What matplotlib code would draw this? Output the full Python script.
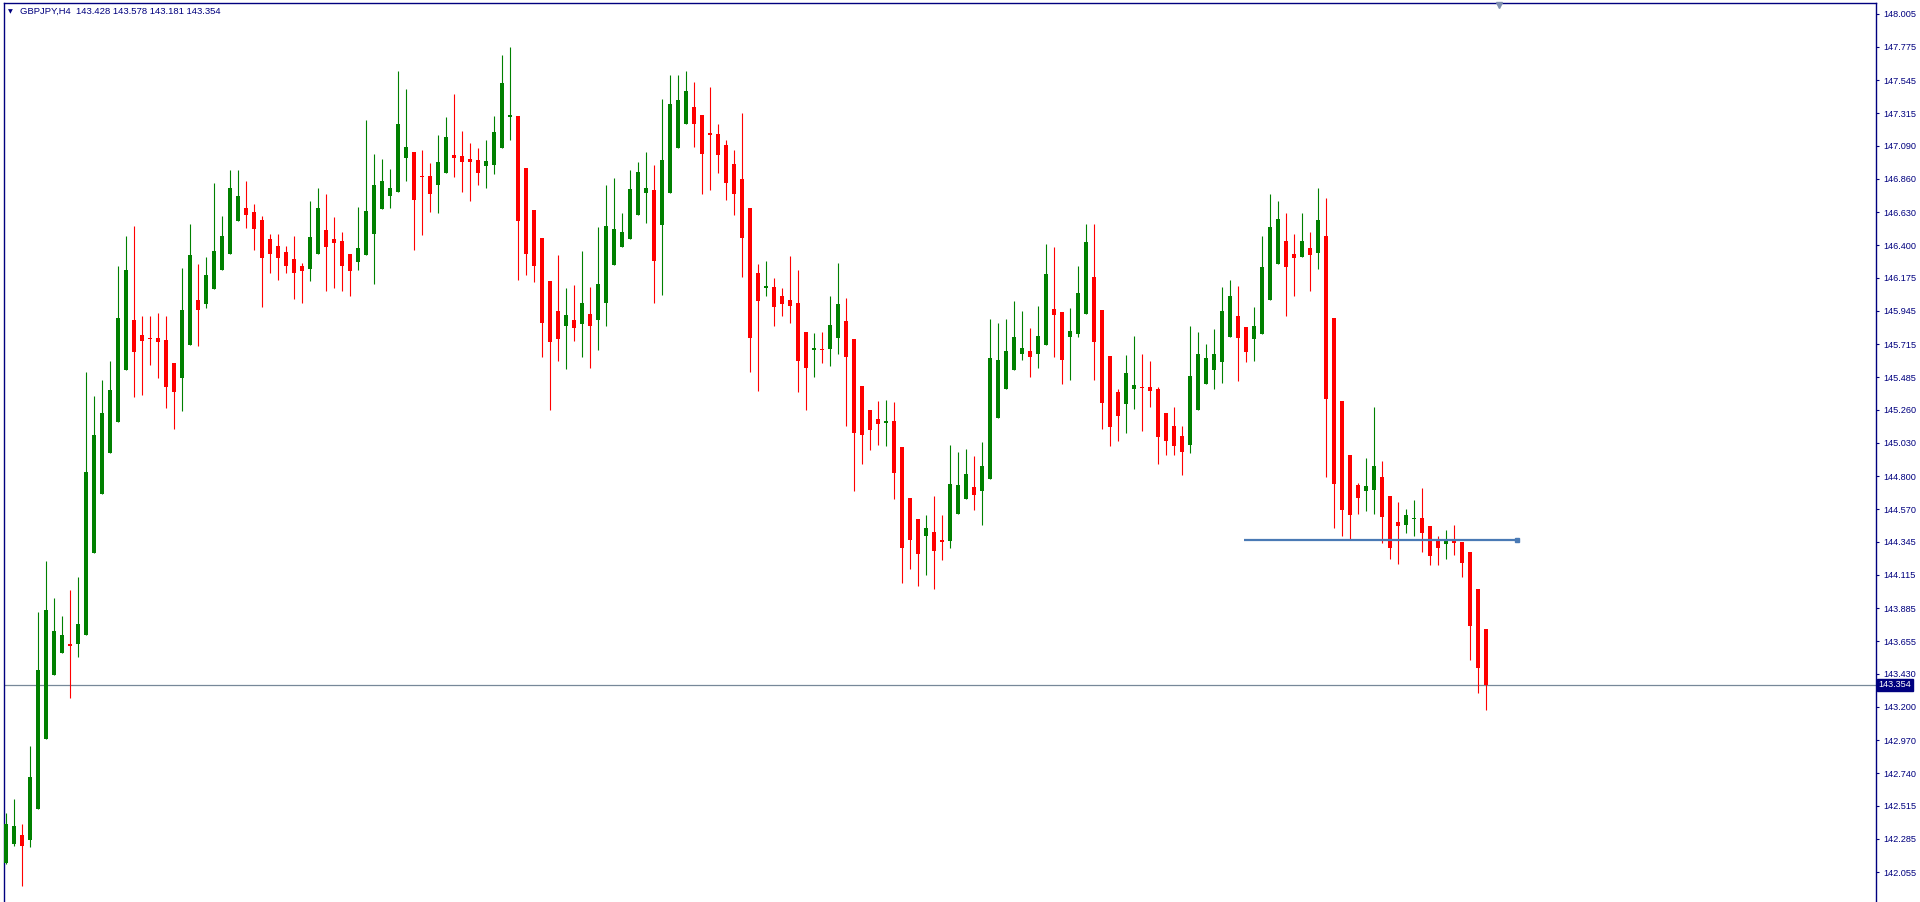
import matplotlib
matplotlib.use("Agg")
import matplotlib.pyplot as plt
import matplotlib.transforms as mtransforms
import numpy as np

# ---------------- data (GBPJPY, H4) ----------------
opens = [142.119, 142.247, 142.310, 142.275, 142.490, 142.976, 143.419, 143.571, 143.634, 143.634,
         143.702, 144.265, 144.675, 144.958, 145.174, 145.533, 145.884, 145.780, 145.760, 145.756,
         145.744, 145.585, 145.477, 145.712, 146.019, 145.991, 146.095, 146.227, 146.342, 146.566,
         146.657, 146.629, 146.578, 146.446, 146.394, 146.354, 146.306, 146.259, 146.235, 146.342,
         146.506, 146.446, 146.430, 146.338, 146.282, 146.330, 146.482, 146.649, 146.745, 146.773,
         147.008, 147.048, 146.881, 146.881, 146.817, 146.901, 147.028, 147.020, 147.000, 146.992,
         146.948, 146.960, 147.072, 147.287, 147.295, 146.936, 146.645, 146.450, 146.155, 145.943,
         145.844, 145.884, 145.852, 145.924, 145.880, 146.003, 146.267, 146.386, 146.442, 146.613,
         146.761, 146.785, 146.538, 146.761, 147.072, 147.240, 147.359, 147.303, 147.176, 147.172,
         147.096, 146.964, 146.861, 146.657, 146.207, 146.107, 146.111, 146.047, 146.019, 145.999,
         145.800, 145.672, 145.680, 145.680, 145.760, 145.876, 145.752, 145.425, 145.258, 145.194,
         145.170, 145.182, 145.002, 144.647, 144.504, 144.384, 144.412, 144.356, 144.348, 144.540,
         144.639, 144.723, 144.695, 144.779, 145.202, 145.401, 145.533, 145.644, 145.668, 145.644,
         145.708, 145.959, 145.939, 145.768, 145.788, 145.927, 146.179, 145.951, 145.632, 145.385,
         145.297, 145.401, 145.417, 145.417, 145.405, 145.238, 145.146, 145.078, 145.018, 145.258,
         145.441, 145.533, 145.589, 145.768, 145.912, 145.836, 145.748, 145.788, 146.019, 146.274,
         146.430, 146.338, 146.322, 146.382, 146.350, 146.466, 145.896, 145.321, 144.946, 144.739,
         144.695, 144.707, 144.795, 144.663, 144.484, 144.464, 144.500, 144.508, 144.456, 144.352,
         144.328, 144.348, 144.344, 144.273, 144.017, 143.742]

highs = [142.466, 142.562, 142.390, 142.929, 143.858, 144.213, 143.953, 143.830, 144.009, 144.101,
         145.521, 145.357, 145.465, 145.597, 146.259, 146.466, 146.534, 145.912, 145.912, 145.931,
         145.912, 145.585, 146.243, 146.550, 146.271, 146.318, 146.833, 146.605, 146.925, 146.921,
         146.845, 146.685, 146.605, 146.478, 146.478, 146.394, 146.466, 146.278, 146.709, 146.797,
         146.757, 146.598, 146.494, 146.338, 146.665, 147.268, 147.032, 147.000, 146.929, 147.610,
         147.483, 147.048, 147.060, 146.968, 147.164, 147.291, 147.451, 147.192, 147.108, 147.076,
         147.132, 147.295, 147.718, 147.774, 147.295, 146.936, 146.645, 146.450, 146.155, 146.334,
         146.103, 146.127, 146.362, 146.111, 146.526, 146.817, 146.869, 146.625, 146.921, 146.976,
         147.048, 146.956, 147.415, 147.583, 147.583, 147.610, 147.531, 147.303, 147.499, 147.240,
         147.132, 147.060, 147.319, 146.657, 146.274, 146.290, 146.175, 146.103, 146.326, 146.231,
         145.800, 145.792, 145.800, 146.047, 146.278, 146.035, 145.752, 145.425, 145.258, 145.321,
         145.329, 145.313, 145.002, 144.647, 144.504, 144.532, 144.663, 144.532, 145.014, 144.966,
         144.986, 144.938, 145.038, 145.888, 145.864, 145.888, 146.015, 145.943, 145.828, 145.979,
         146.410, 146.390, 145.939, 145.967, 146.259, 146.550, 146.550, 145.951, 145.632, 145.405,
         145.640, 145.772, 145.648, 145.597, 145.417, 145.238, 145.277, 145.150, 145.840, 145.800,
         145.716, 145.820, 146.111, 146.159, 146.119, 145.836, 145.971, 146.466, 146.757, 146.709,
         146.625, 146.478, 146.625, 146.494, 146.797, 146.729, 145.896, 145.321, 144.946, 144.751,
         144.927, 145.277, 144.907, 144.663, 144.619, 144.572, 144.635, 144.719, 144.456, 144.384,
         144.428, 144.460, 144.344, 144.273, 144.017, 143.742]

lows = [142.111, 142.239, 141.959, 142.231, 142.490, 142.976, 143.419, 143.571, 143.260, 143.543,
        143.702, 144.265, 144.675, 144.958, 145.174, 145.533, 145.349, 145.365, 145.569, 145.477,
        145.273, 145.130, 145.250, 145.712, 145.704, 145.963, 146.095, 146.227, 146.342, 146.566,
        146.518, 146.370, 145.971, 146.211, 146.159, 146.211, 146.031, 146.003, 146.151, 146.342,
        146.087, 146.107, 146.087, 146.047, 146.227, 146.330, 146.131, 146.649, 146.661, 146.773,
        146.845, 146.370, 146.474, 146.633, 146.621, 146.901, 146.873, 146.773, 146.705, 146.821,
        146.801, 146.893, 147.072, 147.128, 146.163, 146.191, 146.143, 145.628, 145.261, 145.597,
        145.541, 145.740, 145.624, 145.549, 145.672, 145.844, 146.267, 146.386, 146.442, 146.613,
        146.558, 146.003, 146.059, 146.761, 147.072, 147.240, 147.080, 146.753, 146.781, 146.905,
        146.713, 146.613, 146.179, 145.521, 145.393, 146.047, 145.844, 145.908, 145.860, 145.381,
        145.258, 145.485, 145.581, 145.561, 145.644, 145.146, 144.695, 144.887, 144.978, 145.018,
        145.006, 144.639, 144.057, 144.153, 144.037, 144.113, 144.021, 144.221, 144.300, 144.540,
        144.639, 144.568, 144.460, 144.779, 145.202, 145.401, 145.533, 145.608, 145.485, 145.549,
        145.708, 145.624, 145.441, 145.465, 145.768, 145.927, 145.465, 145.126, 145.006, 145.046,
        145.098, 145.269, 145.110, 145.281, 144.887, 144.950, 144.946, 144.811, 144.958, 145.258,
        145.441, 145.401, 145.449, 145.768, 145.457, 145.589, 145.600, 145.788, 146.019, 146.274,
        145.908, 146.051, 146.322, 146.087, 146.239, 144.791, 144.444, 144.384, 144.360, 144.536,
        144.556, 144.540, 144.340, 144.225, 144.193, 144.404, 144.384, 144.273, 144.181, 144.181,
        144.225, 144.253, 144.101, 143.523, 143.295, 143.181]

closes = [142.390, 142.374, 142.239, 142.713, 143.455, 143.874, 143.726, 143.698, 143.622, 143.778,
          144.827, 145.086, 145.238, 145.397, 145.896, 146.231, 145.664, 145.740, 145.748, 145.732,
          145.417, 145.381, 145.951, 146.334, 145.955, 146.195, 146.362, 146.462, 146.797, 146.741,
          146.609, 146.514, 146.310, 146.338, 146.310, 146.259, 146.207, 146.219, 146.458, 146.657,
          146.386, 146.414, 146.255, 146.219, 146.382, 146.637, 146.817, 146.845, 146.797, 147.240,
          147.080, 146.717, 146.873, 146.753, 146.976, 147.152, 147.008, 146.980, 146.976, 146.901,
          146.984, 147.188, 147.527, 147.303, 146.566, 146.342, 146.255, 145.860, 145.728, 145.748,
          145.916, 145.824, 145.999, 145.840, 146.131, 146.534, 146.514, 146.494, 146.789, 146.909,
          146.797, 146.294, 146.992, 147.379, 147.407, 147.471, 147.244, 147.036, 147.168, 147.024,
          146.829, 146.753, 146.450, 145.760, 146.011, 146.115, 145.975, 145.991, 145.983, 145.597,
          145.553, 145.688, 145.672, 145.848, 145.995, 145.624, 145.098, 145.082, 145.118, 145.162,
          145.182, 144.819, 144.300, 144.356, 144.257, 144.440, 144.284, 144.344, 144.747, 144.739,
          144.815, 144.667, 144.871, 145.620, 145.604, 145.668, 145.764, 145.688, 145.628, 145.772,
          146.203, 145.916, 145.608, 145.808, 146.071, 146.422, 145.728, 145.305, 145.138, 145.214,
          145.517, 145.433, 145.409, 145.393, 145.070, 145.046, 145.006, 144.966, 145.493, 145.644,
          145.620, 145.648, 145.943, 146.047, 145.756, 145.664, 145.840, 146.251, 146.526, 146.582,
          146.247, 146.310, 146.430, 146.330, 146.578, 145.333, 144.743, 144.564, 144.528, 144.647,
          144.735, 144.871, 144.520, 144.300, 144.452, 144.532, 144.512, 144.404, 144.249, 144.300,
          144.356, 144.340, 144.201, 143.758, 143.467, 143.354]

price_ticks = ["148.005", "147.775", "147.545", "147.315", "147.090", "146.860", "146.630",
               "146.400", "146.175", "145.945", "145.715", "145.485", "145.260", "145.030",
               "144.800", "144.570", "144.345", "144.115", "143.885", "143.655", "143.430",
               "143.200", "142.970", "142.740", "142.515", "142.285", "142.055"]

symbol_title = "GBPJPY,H4"
header_ohlc = ["143.428", "143.578", "143.181", "143.354"]
current_price = 143.354

# horizontal level (trend line object): bar index range and price
level_start_bar = 154.75
level_end_bar = 188.9
level_price = 144.359

# ---------------- styling ----------------
W, H = 1920, 902
NAVY = "#00007f"
GREEN = "#008000"
RED = "#ff0000"
FONT = ["Liberation Sans", "DejaVu Sans"]

fig = plt.figure(figsize=(W / 100, H / 100), dpi=100, facecolor="white")
ax_left, ax_right, ax_top = 4 / W, 1876 / W, 1 - 3 / H
ax = fig.add_axes([ax_left, 0.0, ax_right - ax_left, ax_top])
ax.set_facecolor("white")

o = np.array(opens); h = np.array(highs); l = np.array(lows); c = np.array(closes)
x = np.arange(len(o))
up = c >= o
colors = np.where(up, GREEN, RED)

# wicks
ax.vlines(x, l, h, colors=colors, linewidth=0.8, zorder=3)
# bodies
body_bottom = np.minimum(o, c)
body_height = np.maximum(np.abs(c - o), 0.008)
ax.bar(x, body_height, bottom=body_bottom, width=0.62, color=colors,
       linewidth=0, zorder=4)

# current price line
ax.axhline(current_price, color="#778899", linewidth=0.9, zorder=2)

# horizontal level
ax.plot([level_start_bar, level_end_bar], [level_price, level_price],
        color="#4a7ab5", linewidth=1.6, zorder=5, solid_capstyle="butt")
ax.plot([level_end_bar], [level_price], marker="s", markersize=2.5,
        color="#4a7ab5", zorder=5)

# axes limits
ax.set_xlim(-0.25, 233.75)
ax.set_ylim(141.848, 148.080)
ax.set_xticks([])

# price axis on the right
tick_vals = [float(t) for t in price_ticks]
ax.yaxis.tick_right()
ax.set_yticks(tick_vals)
ax.set_yticklabels(price_ticks, fontsize=6.6, color=NAVY, family=FONT)
ax.tick_params(axis="y", direction="out", length=2.5, width=0.8, color=NAVY, pad=2.5)

for side in ["top", "left", "right"]:
    ax.spines[side].set_color(NAVY)
    ax.spines[side].set_linewidth(1.0)
ax.spines["bottom"].set_visible(False)

# current price tag
trans = mtransforms.blended_transform_factory(ax.transAxes, ax.transData)
ax.text(1.0012, current_price, "143.354", transform=trans, fontsize=6.6,
        color="white", family=FONT, va="center", ha="left", zorder=10,
        clip_on=False,
        bbox=dict(boxstyle="square,pad=0.18", facecolor=NAVY, edgecolor=NAVY))

# header
fig.text(8 / W, 1 - 11.5 / H, "\u25BC", fontsize=4.5, color=NAVY, va="center",
         ha="left", family=["DejaVu Sans"])
fig.text(20 / W, 1 - 11.5 / H,
         symbol_title + "  " + " ".join(header_ohlc),
         fontsize=6.8, color=NAVY, va="center", ha="left", family=FONT)

# chart shift marker at the top
ax.plot([0.7986], [0.9975], marker="v", markersize=5, color="#8090b0",
        transform=ax.transAxes, clip_on=False, zorder=6)

fig.savefig("out.png", dpi=100, facecolor="white")
